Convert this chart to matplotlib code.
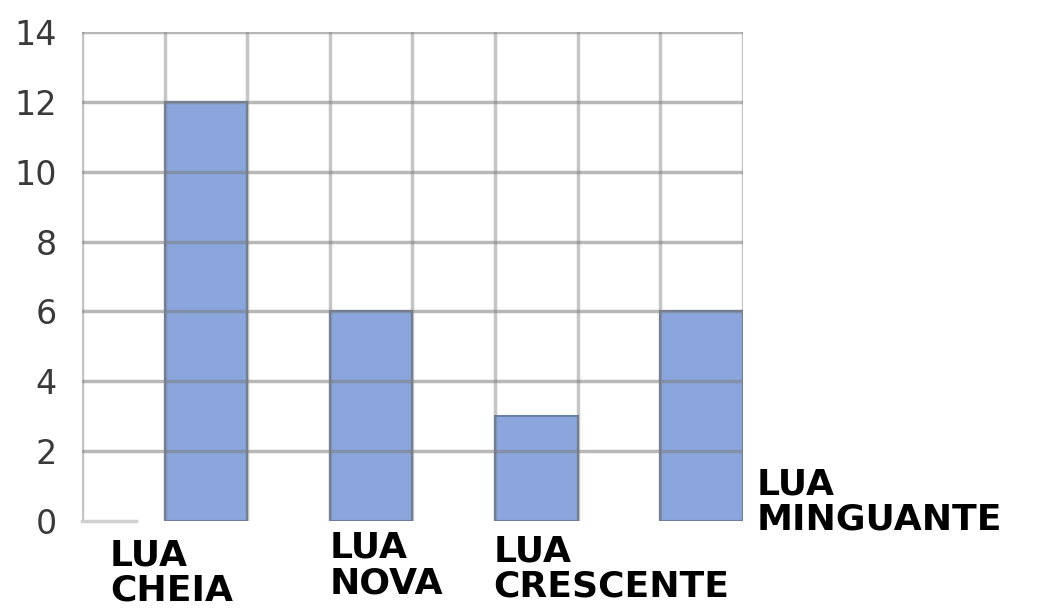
import matplotlib.pyplot as plt

# dados
fases = ['LUA\nCHEIA', 'LUA\nNOVA', 'LUA\nCRESCENTE', 'LUA\nMINGUANTE']
valores = [12, 6, 3, 6]
colunas = [1.5, 3.5, 5.5, 7.5]
y_ticks = [0, 2, 4, 6, 8, 10, 12, 14]

fig = plt.figure(figsize=(10.59, 6.09), dpi=100)
ax = fig.add_axes([0.0774, 0.1445, 0.6242, 0.803])

ax.bar(colunas, valores, width=1.0, color='#8aa6dc', edgecolor='#6a7ea6',
       linewidth=1.5, zorder=2)

# grade
for y in y_ticks[1:]:
    ax.axhline(y, color='#7f7f7f', alpha=0.55, linewidth=2.5, zorder=3)
for x in range(0, 9):
    ax.axvline(x, color='#7f7f7f', alpha=0.45, linewidth=2.5, zorder=3)
ax.plot([0, 0.65], [0, 0], color='#d0d0d0', linewidth=2.5, zorder=3, clip_on=False)

ax.set_xlim(0, 8)
ax.set_ylim(0, 14)
ax.set_yticks(y_ticks)
ax.set_yticklabels([str(v) for v in y_ticks], fontsize=24, color='#3a3a3a')
ax.tick_params(axis='y', length=0, pad=18)
ax.set_xticks([])
for s in ax.spines.values():
    s.set_visible(False)

# rótulos das categorias
pos_rotulos = [(0.34, -0.035), (3.0, -0.02), (4.98, -0.027), (8.17, 0.11)]
for txt, (x, y) in zip(fases, pos_rotulos):
    ax.text(x, y, txt, transform=ax.get_xaxis_transform(), ha='left', va='top',
            fontsize=26, fontweight='bold', color='black', linespacing=1.05,
            clip_on=False)

fig.savefig('out.png', dpi=100)
